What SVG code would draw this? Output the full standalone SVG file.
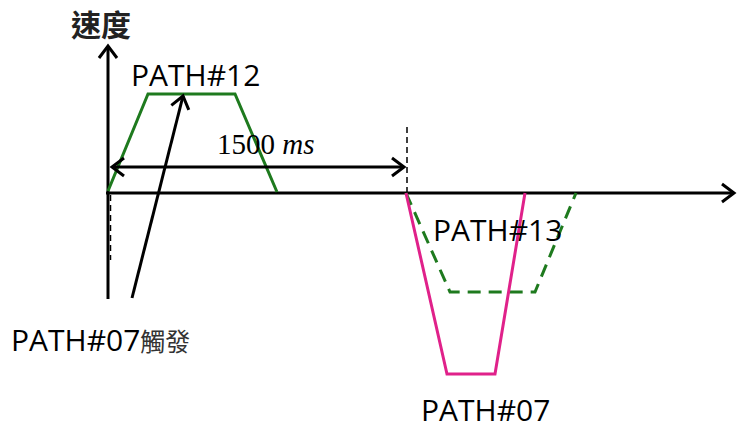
<svg xmlns="http://www.w3.org/2000/svg" width="737" height="431" viewBox="0 0 737 431">
<style>
.ax{stroke:#000;stroke-width:3;fill:none}
.thin{stroke:#000;stroke-width:1.5;fill:none;stroke-dasharray:6 4}
.g{stroke:#1E7A1E;stroke-width:3;fill:none;stroke-linejoin:miter}
.gd{stroke:#1E7A1E;stroke-width:3;fill:none;stroke-dasharray:13 8}
.m{stroke:#E0218A;stroke-width:3;fill:none}
.lbl{font-family:"Open Sans","Liberation Sans",sans-serif;font-size:30px;fill:#000}
.cjk{font-family:"Noto Sans CJK TC","Noto Sans CJK SC",sans-serif}
.tm{font-family:"Liberation Serif",serif;font-size:29px;fill:#000}
</style>
<defs>
<marker id="ch" markerUnits="userSpaceOnUse" markerWidth="30" markerHeight="30" viewBox="-15 -15 30 30" refX="0" refY="0" orient="auto-start-reverse">
<path d="M-12,-9 L0,0 L-12,9" stroke="#000" stroke-width="3" fill="none"/>
</marker>
</defs>
<rect width="737" height="431" fill="#fff"/>
<g id="axes">
<line class="ax" x1="108" y1="299" x2="108" y2="46" marker-end="url(#ch)"/>
<line class="ax" x1="106" y1="193" x2="734" y2="193" marker-end="url(#ch)"/>
<line class="thin" x1="110.5" y1="195" x2="110.5" y2="260"/>
<line class="thin" x1="407" y1="127" x2="407" y2="193"/>
</g>
<g id="path12">
<polyline class="g" points="108,191 148,94 235,94 277,192"/>
</g>
<g id="path13">
<polyline class="gd" points="406,193 450,292 535,292 576,193"/>
</g>
<g id="path07">
<polyline class="m" points="406,193 447,374 495,374 525,193"/>
</g>
<g id="connectors">
<line class="ax" x1="112" y1="167" x2="404" y2="167" marker-start="url(#ch)" marker-end="url(#ch)"/>
<line class="ax" x1="132" y1="298" x2="183" y2="96" marker-end="url(#ch)"/>
</g>
<g id="labels">
<text x="71" y="36" font-family="Noto Sans CJK TC, Noto Sans CJK SC, sans-serif" font-size="30" font-weight="bold" fill="#222">速度</text>
<text class="lbl" x="131" y="86">PATH#12</text>
<text class="tm" x="217" y="154">1500 <tspan font-style="italic">ms</tspan></text>
<text class="lbl" x="433" y="241">PATH#13</text>
<text class="lbl" x="11" y="351">PATH#07<tspan class="cjk" font-size="25" fill="#333">觸發</tspan></text>
<text class="lbl" x="421" y="421">PATH#07</text>
</g>
</svg>
